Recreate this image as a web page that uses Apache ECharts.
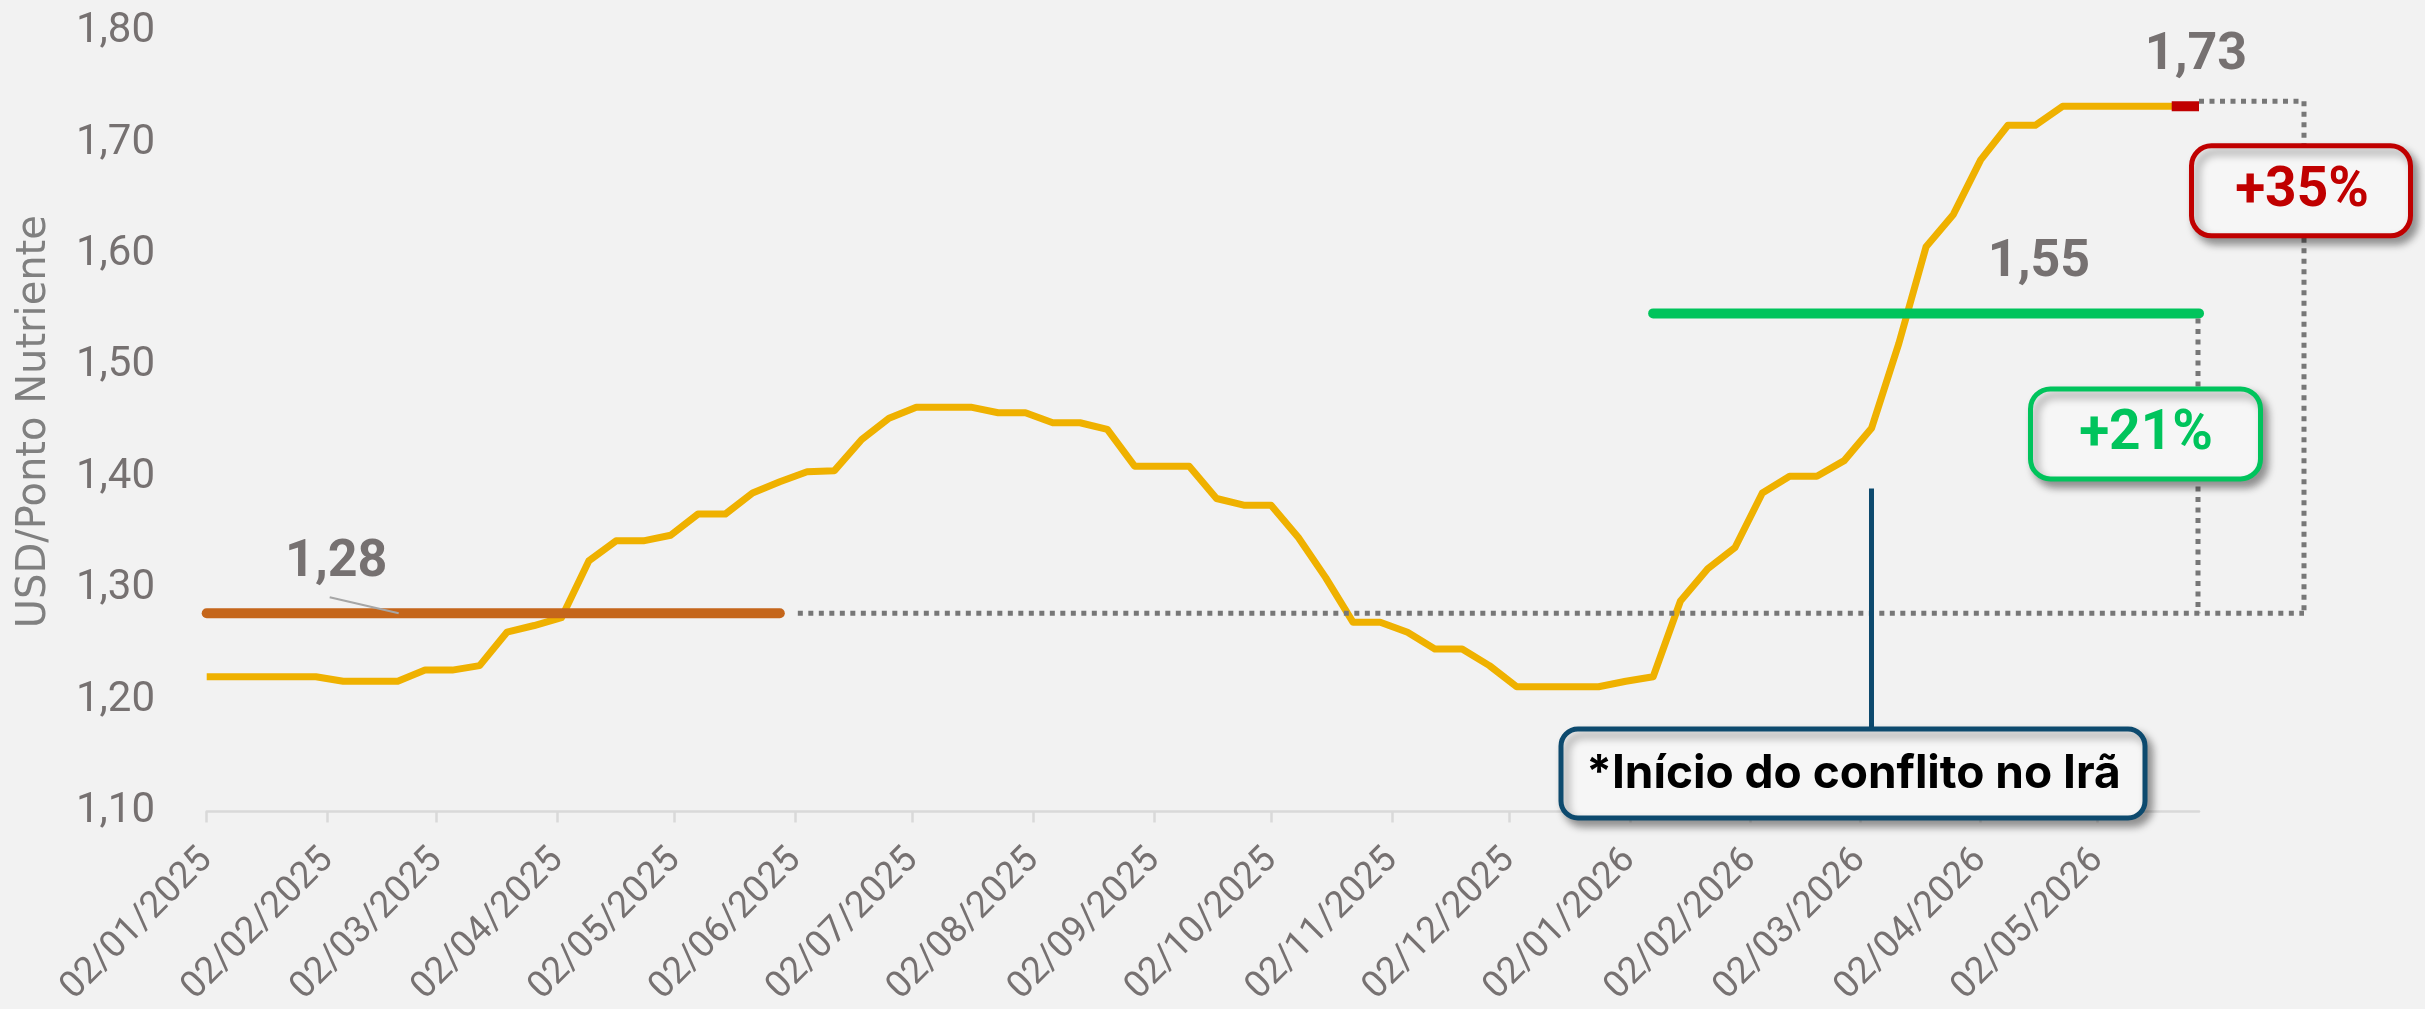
<!DOCTYPE html>
<html>
<head>
<meta charset="utf-8">
<script src="https://cdn.jsdelivr.net/npm/echarts@6/dist/echarts.min.js"></script>
<style>
html,body{margin:0;padding:0;background:#F2F2F2;}
#c{width:2425px;height:1009px;}
</style>
</head>
<body>
<div id="c"></div>
<script>
// ---------------- data ----------------
const dates = [
 '2025-01-02','2025-01-09','2025-01-16','2025-01-23','2025-01-30',
 '2025-02-06','2025-02-13','2025-02-20','2025-02-27',
 '2025-03-06','2025-03-13','2025-03-20','2025-03-27',
 '2025-04-03','2025-04-10','2025-04-17','2025-04-24',
 '2025-05-01','2025-05-08','2025-05-15','2025-05-22','2025-05-29',
 '2025-06-05','2025-06-12','2025-06-19','2025-06-26',
 '2025-07-03','2025-07-10','2025-07-17','2025-07-24','2025-07-31',
 '2025-08-07','2025-08-14','2025-08-21','2025-08-28',
 '2025-09-04','2025-09-11','2025-09-18','2025-09-25',
 '2025-10-02','2025-10-09','2025-10-16','2025-10-23','2025-10-30',
 '2025-11-06','2025-11-13','2025-11-20','2025-11-27',
 '2025-12-04','2025-12-11','2025-12-18','2025-12-25',
 '2026-01-01','2026-01-08','2026-01-15','2026-01-22','2026-01-29',
 '2026-02-05','2026-02-12','2026-02-19','2026-02-26',
 '2026-03-05','2026-03-12','2026-03-19','2026-03-26',
 '2026-04-02','2026-04-09','2026-04-16','2026-04-23','2026-04-30',
 '2026-05-07','2026-05-14','2026-05-21','2026-05-28'
];
const prices = [
 1.221,1.221,1.221,1.221,1.221,
 1.217,1.217,1.217,1.227,
 1.227,1.231,1.261,1.267,
 1.274,1.325,1.343,1.343,
 1.348,1.367,1.367,1.386,1.396,
 1.405,1.406,1.434,1.453,
 1.463,1.463,1.463,1.458,1.458,
 1.449,1.449,1.443,1.410,
 1.410,1.410,1.381,1.375,
 1.375,1.346,1.310,1.270,1.270,
 1.261,1.246,1.246,1.231,
 1.212,1.212,1.212,1.212,
 1.217,1.221,1.289,1.318,1.337,
 1.386,1.401,1.401,1.415,
 1.444,1.520,1.607,1.636,
 1.685,1.716,1.716,1.733,1.733,
 1.733,1.733,1.733,1.733
];
const tickDates = [
 '2025-01-02','2025-02-02','2025-03-02','2025-04-02','2025-05-02','2025-06-02',
 '2025-07-02','2025-08-02','2025-09-02','2025-10-02','2025-11-02','2025-12-02',
 '2026-01-02','2026-02-02','2026-03-02','2026-04-02','2026-05-02'
];
const tickLabels = [
 '02/01/2025','02/02/2025','02/03/2025','02/04/2025','02/05/2025','02/06/2025',
 '02/07/2025','02/08/2025','02/09/2025','02/10/2025','02/11/2025','02/12/2025',
 '02/01/2026','02/02/2026','02/03/2026','02/04/2026','02/05/2026'
];
// averaged periods (index ranges into dates/prices)
const oldPeriod = [0, 21];
const newPeriod = [53, 73];
const conflictDate = '2026-03-05';
const conflictTopValue = 1.39;
const texts = {
  yName: 'USD/Ponto Nutriente',
  oldAvg: '1,28', newAvg: '1,55', lastVal: '1,73',
  pctNew: '+21%', pctLast: '+35%',
  conflict: '*Início do conflito no Irã'
};

// ---------------- helpers ----------------
function tms(s){ const p = s.split('-').map(Number); return Date.UTC(p[0], p[1]-1, p[2]); }
function mean(a, b){ let s = 0; for (let i = a; i <= b; i++) s += prices[i]; return s / (b - a + 1); }
const avgOld = mean(oldPeriod[0], oldPeriod[1]);
const avgNew = mean(newPeriod[0], newPeriod[1]);
const tickValues = tickDates.map(tms);
const lastIdx = prices.length - 1;

const GRAY = '#767171';
const chart = echarts.init(document.getElementById('c'), null, {renderer: 'canvas', width: 2425, height: 1009});

chart.setOption({
  backgroundColor: '#F2F2F2',
  animation: false,
  grid: {left: 206.7, right: 2425 - 2199, top: 31.7, bottom: 1009 - 815.7, containLabel: false},
  xAxis: {
    type: 'value',
    min: tms(dates[0]),
    max: tms(dates[lastIdx]),
    splitLine: {show: false},
    axisLine: {show: true, lineStyle: {color: '#D9D9D9', width: 2.5}},
    axisTick: {show: true, length: 11, lineStyle: {color: '#D9D9D9', width: 2.5}, customValues: tickValues},
    minorTick: {show: false},
    axisLabel: {
      customValues: tickValues,
      rotate: 45,
      margin: 43,
      color: GRAY,
      fontFamily: 'Roboto',
      fontSize: 37,
      hideOverlap: false,
      showMinLabel: true,
      showMaxLabel: true,
      formatter: function (v) {
        let best = 0;
        for (let k = 1; k < tickValues.length; k++) if (Math.abs(tickValues[k]-v) < Math.abs(tickValues[best]-v)) best = k;
        return tickLabels[best];
      }
    }
  },
  yAxis: {
    type: 'value',
    min: 1.10, max: 1.80, interval: 0.10,
    name: texts.yName,
    nameLocation: 'middle',
    nameRotate: 90,
    nameGap: 152,
    nameTextStyle: {color: '#808080', fontFamily: 'DejaVu Sans', fontSize: 40},
    splitLine: {show: false},
    axisLine: {show: false},
    axisTick: {show: false},
    axisLabel: {
      margin: 51.7,
      color: GRAY,
      fontFamily: 'Roboto',
      fontSize: 42,
      formatter: function (v) { return v.toFixed(2).replace('.', ','); }
    }
  },
  series: [
    {
      name: 'Preço', type: 'line', symbol: 'none', z: 3,
      data: dates.map((d, i) => [tms(d), prices[i]]),
      lineStyle: {color: '#EFB100', width: 7, join: 'round'}
    },
    {
      name: 'Atual', type: 'line', symbol: 'none', z: 4,
      data: [[tms(dates[lastIdx-1]), prices[lastIdx-1]], [tms(dates[lastIdx]), prices[lastIdx]]],
      lineStyle: {color: '#C00000', width: 10, cap: 'butt'}
    },
    {
      name: 'Média 2025', type: 'line', symbol: 'none', z: 5,
      data: [[tms(dates[oldPeriod[0]]), avgOld], [tms(dates[oldPeriod[1]]), avgOld]],
      lineStyle: {color: '#C5661B', width: 10, cap: 'round'}
    },
    {
      name: 'Média 2026', type: 'line', symbol: 'none', z: 5,
      data: [[tms(dates[newPeriod[0]]), avgNew], [tms(dates[newPeriod[1]]), avgNew]],
      lineStyle: {color: '#00C45C', width: 10, cap: 'round'}
    }
  ]
});

// ---------------- annotations anchored through the axes ----------------
function px(d, v){ return chart.convertToPixel({xAxisIndex: 0, yAxisIndex: 0}, [tms(d), v]); }
const last = px(dates[lastIdx], prices[lastIdx]);
const oldS = px(dates[oldPeriod[0]], avgOld);
const oldE = px(dates[oldPeriod[1]], avgOld);
const newE = px(dates[newPeriod[1]], avgNew);
const conf = px(conflictDate, conflictTopValue);
const axisY = px(dates[0], 1.10)[1];
const baseY = oldS[1];
const outerX = last[0] + 105;
const topY = last[1] - 5;

const dot = {stroke: '#777777', lineWidth: 5, lineDash: [5, 5.5]};
const shadow = {shadowColor: 'rgba(0,0,0,0.38)', shadowBlur: 9, shadowOffsetX: 5, shadowOffsetY: 6};
function txt(x, y, t, size, color, family, weight){
  return {type: 'text', z: 20, x: x, y: y, style: {text: t, x: 0, y: 0, fill: color,
    font: (weight || 'bold') + ' ' + size + 'px ' + (family || 'Roboto'),
    align: 'center', verticalAlign: 'middle', textAlign: 'center', textVerticalAlign: 'middle'}};
}
function box(cx, cy, w, h, color){
  return {type: 'rect', z: 15, shape: {x: cx - w/2, y: cy - h/2, width: w, height: h, r: 20},
    style: Object.assign({fill: '#F6F6F6', stroke: color, lineWidth: 5}, shadow)};
}

chart.setOption({
  graphic: [
    {type: 'line', z: 10, shape: {x1: oldE[0] + 18, y1: baseY, x2: outerX, y2: baseY}, style: dot},
    {type: 'line', z: 10, shape: {x1: last[0], y1: topY, x2: outerX, y2: topY}, style: dot},
    {type: 'line', z: 10, shape: {x1: outerX, y1: topY, x2: outerX, y2: baseY}, style: dot},
    {type: 'line', z: 10, shape: {x1: newE[0] - 1, y1: newE[1] + 5, x2: newE[0] - 1, y2: baseY}, style: dot},
    txt(last[0] - 3, last[1] - 50, texts.lastVal, 52, GRAY),
    txt(newE[0] - 160, newE[1] - 50, texts.newAvg, 52, GRAY),
    txt(oldS[0] + 129.5, oldS[1] - 50, texts.oldAvg, 52, GRAY),
    {type: 'line', z: 12, shape: {x1: oldS[0] + 123, y1: baseY - 16, x2: oldS[0] + 192, y2: baseY}, style: {stroke: '#A6A6A6', lineWidth: 2}},
    box(outerX - 3, last[1] + 84.5, 219, 90, '#C00000'),
    txt(outerX - 2, last[1] + 86, texts.pctLast, 55, '#C00000'),
    box(newE[0] - 53.5, newE[1] + 120.5, 230, 90, '#00C45C'),
    txt(newE[0] - 53, newE[1] + 122, texts.pctNew, 55, '#00C45C'),
    {type: 'line', z: 12, shape: {x1: conf[0], y1: conf[1], x2: conf[0], y2: axisY - 84}, style: {stroke: '#0D4A6E', lineWidth: 5}},
    {type: 'rect', z: 15, shape: {x: conf[0] - 18.5 - 292, y: axisY - 38 - 44.5, width: 584, height: 89, r: 17},
      style: Object.assign({fill: '#F6F6F6', stroke: '#0D4A6E', lineWidth: 5}, shadow)},
    txt(conf[0] - 18, axisY - 37, texts.conflict, 46, '#000000', 'Inter')
  ]
});
</script>
</body>
</html>
